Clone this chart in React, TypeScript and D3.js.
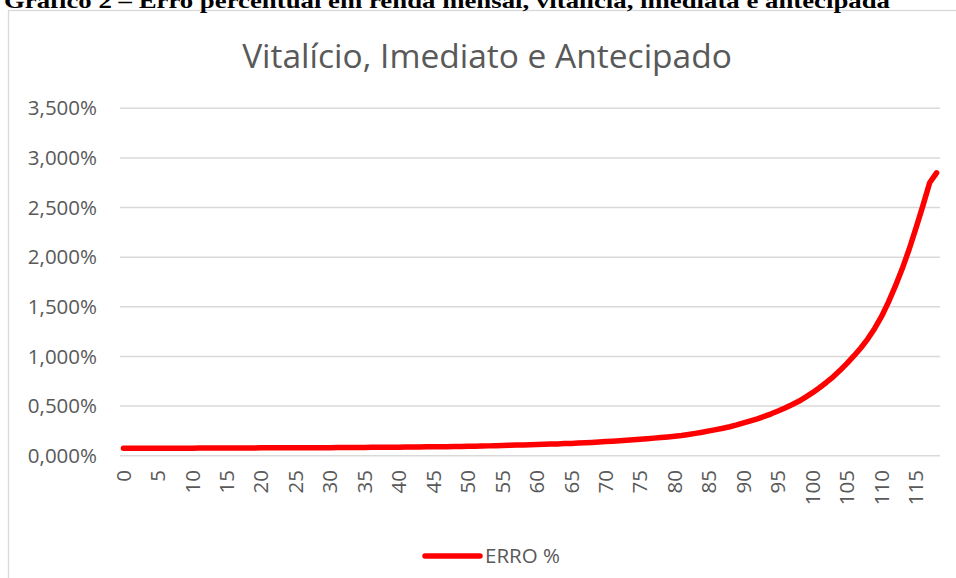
import React from "react";
import * as d3 from "d3";

const pageHeading = "Gráfico 2 – Erro percentual em renda mensal, vitalícia, imediata e antecipada";
const chartTitle = "Vitalício, Imediato e Antecipado";
const seriesName = "ERRO %";

const ages: number[] = Array.from({ length: 119 }, (_, i) => i);

const erroPct: number[] = [
  0.075, 0.075, 0.075, 0.075, 0.075, 0.076, 0.076, 0.076, 0.076, 0.076,
  0.076, 0.077, 0.077, 0.077, 0.077, 0.077, 0.078, 0.078, 0.078, 0.078,
  0.079, 0.079, 0.079, 0.079, 0.080, 0.080, 0.080, 0.080, 0.081, 0.081,
  0.081, 0.082, 0.082, 0.082, 0.083, 0.083, 0.084, 0.084, 0.085, 0.085,
  0.086, 0.087, 0.087, 0.088, 0.089, 0.090, 0.090, 0.091, 0.092, 0.093,
  0.094, 0.096, 0.097, 0.099, 0.101, 0.103, 0.105, 0.107, 0.109, 0.111,
  0.113, 0.115, 0.117, 0.119, 0.122, 0.124, 0.127, 0.130, 0.134, 0.138,
  0.142, 0.146, 0.151, 0.156, 0.161, 0.166, 0.171, 0.177, 0.183, 0.189,
  0.196, 0.204, 0.214, 0.225, 0.237, 0.250, 0.263, 0.277, 0.292, 0.310,
  0.330, 0.350, 0.372, 0.396, 0.422, 0.450, 0.480, 0.513, 0.548, 0.590,
  0.635, 0.685, 0.738, 0.795, 0.860, 0.930, 1.005, 1.085, 1.175, 1.280,
  1.400, 1.545, 1.705, 1.880, 2.075, 2.290, 2.515, 2.750, 2.850,
];

const yTicks: number[] = [0, 0.5, 1.0, 1.5, 2.0, 2.5, 3.0, 3.5];
const xTickLabels: number[] = [0, 5, 10, 15, 20, 25, 30, 35, 40, 45, 50, 55, 60, 65, 70, 75, 80, 85, 90, 95, 100, 105, 110, 115];

const W = 956;
const H = 578;
const plotLeft = 120;
const plotRight = 940;
const plotTop = 108.3;
const plotBottom = 455.7;
const textColor = "#595959";
const gridColor = "#d9d9d9";
const font = "'Open Sans', 'Liberation Sans', sans-serif";

const fmt = (v: number) => v.toFixed(3).replace(".", ",") + "%";

export default function App() {
  const x = d3
    .scaleBand<number>()
    .domain(ages)
    .range([plotLeft, plotRight]);
  const y = d3.scaleLinear().domain([0, 3.5]).range([plotBottom, plotTop]);
  const cx = (a: number) => (x(a) as number) + x.bandwidth() / 2;

  const line = d3
    .line<number>()
    .x((_, i) => cx(ages[i]))
    .y((d) => y(d))
    .curve(d3.curveLinear);

  return (
    <svg
      width={W}
      height={H}
      style={{ position: "absolute", left: 0, top: 0, display: "block", background: "#fff" }}
    >
      <rect x={0} y={0} width={W} height={H} fill="#fff" />
      <rect x={8.5} y={10.5} width={W + 20} height={H + 20} fill="#fff" stroke={gridColor} strokeWidth={1.3} />
      <text
        x={4}
        y={7.5}
        fontFamily="'Liberation Serif', 'Times New Roman', serif"
        fontWeight="bold"
        fontSize={21}
        fill="#000"
        textLength={886}
        lengthAdjust="spacingAndGlyphs"
      >
        {pageHeading}
      </text>
      <text
        x={487}
        y={68}
        textAnchor="middle"
        fontFamily={font}
        fontSize={33.5}
        fill={textColor}
      >
        {chartTitle}
      </text>
      {yTicks.map((t) => (
        <g key={t}>
          <line x1={plotLeft} x2={plotRight} y1={y(t)} y2={y(t)} stroke={gridColor} strokeWidth={1.4} />
          <text
            x={97}
            y={y(t)}
            dy="0.35em"
            textAnchor="end"
            fontFamily={font}
            fontSize={20.5}
            fill={textColor}
          >
            {fmt(t)}
          </text>
        </g>
      ))}
      {xTickLabels.map((a) => (
        <text
          key={a}
          transform={`translate(${cx(a)},${470}) rotate(-90)`}
          dy="0.35em"
          textAnchor="end"
          fontFamily={font}
          fontSize={20.5}
          fill={textColor}
        >
          {a}
        </text>
      ))}
      <path
        d={line(erroPct) || ""}
        fill="none"
        stroke="#ff0000"
        strokeWidth={5.5}
        strokeLinecap="round"
        strokeLinejoin="round"
      />
      <line x1={425} x2={480} y1={556} y2={556} stroke="#ff0000" strokeWidth={5.5} strokeLinecap="round" />
      <text x={485} y={563} fontFamily={font} fontSize={20.5} fill={textColor}>
        {seriesName}
      </text>
    </svg>
  );
}
